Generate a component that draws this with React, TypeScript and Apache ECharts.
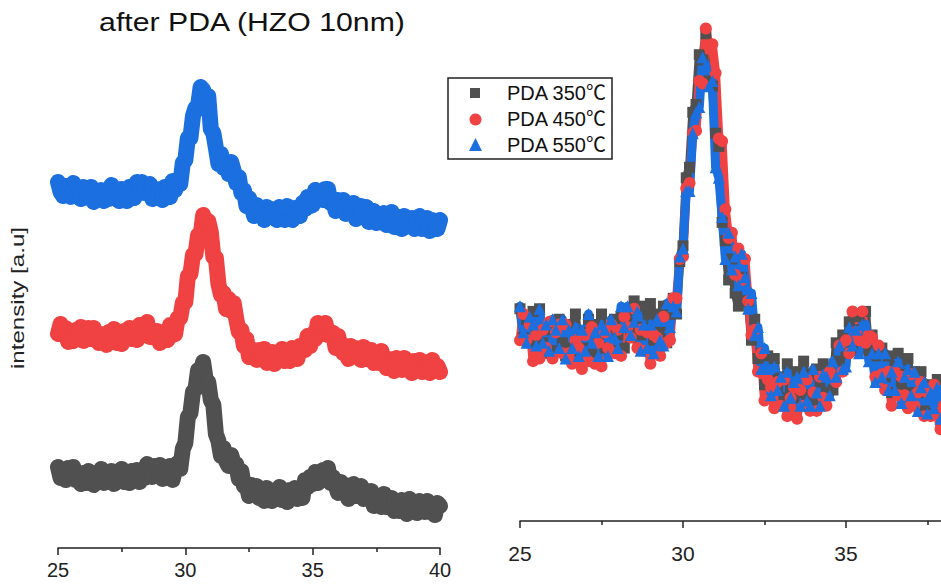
import React, { useEffect, useRef } from "react";
import * as echarts from "echarts";

// 2θ sampling of the measured patterns (degrees)
const TWO_THETA_START = 25;
const TWO_THETA_STEP = 0.1;

const SERIES_NAMES = ["PDA 350℃", "PDA 450℃", "PDA 550℃"];
const SERIES_COLORS = ["#505050", "#f04242", "#1b6fdf"];
const SERIES_SYMBOLS = ["rect", "circle", "triangle"];

// intensity (a.u.), one value per 0.1° from 25° to 40°
const PDA350 = [
  81, 70, 77, 68, 80, 71, 81, 68, 73, 64, 75, 65, 77, 68, 63, 75, 66, 79, 65, 72,
  66, 77, 64, 75, 69, 79, 66, 74, 65, 77, 71, 78, 66, 78, 70, 84, 74, 71, 82, 74,
  83, 69, 79, 72, 82, 68, 79, 85, 79, 99, 105, 131, 135, 156, 159, 178, 176, 186, 168, 166,
  148, 143, 114, 107, 92, 100, 87, 82, 93, 84, 84, 69, 77, 62, 64, 52, 63, 54, 62, 50,
  55, 47, 60, 51, 47, 57, 49, 61, 48, 56, 46, 58, 53, 60, 49, 58, 50, 68, 61, 71,
  64, 76, 65, 73, 78, 69, 80, 65, 71, 63, 55, 66, 55, 63, 49, 59, 64, 52, 56, 62,
  49, 57, 49, 57, 42, 50, 52, 41, 54, 41, 43, 50, 37, 47, 37, 48, 44, 34, 49, 39,
  45, 35, 47, 39, 36, 47, 36, 43, 33, 45, 42,
];
const PDA450 = [
  69, 79, 69, 75, 61, 71, 62, 73, 66, 76, 62, 72, 75, 64, 75, 64, 60, 69, 66, 58,
  71, 61, 74, 60, 68, 59, 72, 66, 75, 64, 73, 63, 78, 74, 70, 81, 66, 73, 65, 72,
  60, 71, 70, 63, 78, 68, 69, 85, 85, 100, 101, 127, 129, 148, 149, 168, 167, 188, 181, 182,
  171, 146, 145, 119, 108, 110, 94, 104, 92, 100, 84, 71, 73, 57, 64, 46, 54, 51, 43, 53,
  44, 54, 40, 47, 51, 39, 50, 44, 54, 42, 49, 42, 55, 47, 44, 57, 55, 53, 67, 57,
  69, 64, 80, 72, 69, 80, 68, 71, 70, 55, 67, 56, 50, 57, 44, 57, 48, 55, 48, 43,
  56, 44, 49, 53, 40, 49, 40, 52, 41, 35, 44, 42, 32, 45, 35, 33, 45, 37, 42, 30,
  42, 34, 43, 31, 39, 41, 30, 43, 32, 37, 31,
];
const PDA550 = [
  82, 72, 68, 78, 75, 67, 81, 68, 75, 65, 77, 73, 66, 77, 62, 73, 66, 74, 63, 73,
  65, 79, 68, 72, 63, 75, 73, 63, 77, 70, 66, 82, 74, 82, 71, 76, 80, 65, 75, 66,
  75, 64, 77, 69, 67, 83, 74, 82, 80, 101, 104, 126, 126, 148, 156, 158, 177, 174, 166, 168,
  135, 131, 116, 100, 110, 96, 101, 90, 102, 93, 81, 87, 71, 74, 58, 66, 58, 48, 59, 50,
  55, 44, 57, 47, 53, 55, 44, 57, 46, 44, 58, 49, 44, 56, 55, 48, 61, 55, 67, 58,
  59, 74, 67, 73, 64, 75, 75, 61, 64, 53, 64, 55, 64, 50, 57, 50, 61, 45, 55, 58,
  48, 57, 42, 51, 53, 41, 49, 43, 51, 39, 41, 52, 37, 44, 47, 35, 48, 38, 41, 46,
  35, 44, 48, 35, 38, 46, 33, 44, 41, 35, 44,
];
const ALL_DATA = [PDA350, PDA450, PDA550];

// vertical offsets used to stack the patterns in the left panel
const STACK_OFFSETS = [0, 145, 284];

const X_MIN = 25;
const X_MAX = 40;
const X_MAJOR = 5;
// the right panel runs past the page edge, its last visible label is 35
const RIGHT_LAST_LABEL = 35;

const TITLE = "after PDA (HZO 10nm)";
const Y_NAME = "intensity [a.u]";

const FONT = "'Liberation Sans', Arial, 'Noto Sans CJK SC', sans-serif";

function toPairs(arr: number[], offset: number) {
  return arr.map((v, i) => [
    Math.round((TWO_THETA_START + i * TWO_THETA_STEP) * 100) / 100,
    v + offset,
  ]);
}

function xAxisCfg(gridIndex: number, fontSize: number, margin: number, lastLabel: number) {
  return {
    type: "value",
    gridIndex,
    min: X_MIN,
    max: X_MAX,
    interval: X_MAJOR,
    axisLine: { show: true, lineStyle: { color: "#222", width: 1.5 } },
    axisTick: { show: true, length: 7, lineStyle: { color: "#222", width: 1.5 } },
    minorTick: { show: true, splitNumber: 2, length: 4, lineStyle: { color: "#222", width: 1.5 } },
    splitLine: { show: false },
    minorSplitLine: { show: false },
    axisLabel: {
      show: true,
      fontSize,
      fontFamily: FONT,
      color: "#222",
      margin,
      formatter: (v: number) => (v <= lastLabel ? String(v) : ""),
    },
  };
}

export default function App() {
  const ref = useRef<HTMLDivElement>(null);

  useEffect(() => {
    if (!ref.current) return;
    const chart = echarts.init(ref.current, undefined, { renderer: "svg" });

    const series: any[] = [];
    // left stacked panel
    ALL_DATA.forEach((arr, k) => {
      series.push({
        type: "line",
        name: SERIES_NAMES[k],
        xAxisIndex: 0,
        yAxisIndex: 0,
        data: toPairs(arr, STACK_OFFSETS[k]),
        symbol: SERIES_SYMBOLS[k],
        symbolSize: k === 0 ? 11 : 12,
        showSymbol: true,
        showAllSymbol: true,
        lineStyle: { color: SERIES_COLORS[k], width: 16, join: "round", cap: "round" },
        itemStyle: { color: SERIES_COLORS[k], borderWidth: 0 },
        silent: true,
        animation: false,
      });
    });
    // right overlay panel
    ALL_DATA.forEach((arr, k) => {
      series.push({
        type: "line",
        name: SERIES_NAMES[k],
        xAxisIndex: 1,
        yAxisIndex: 1,
        data: toPairs(arr, 0),
        symbol: SERIES_SYMBOLS[k],
        symbolSize: k === 0 ? 11 : 12,
        showSymbol: true,
        showAllSymbol: true,
        lineStyle: { color: SERIES_COLORS[k], width: 9, join: "round", cap: "round" },
        itemStyle: { color: SERIES_COLORS[k], borderWidth: 0 },
        silent: true,
        animation: false,
      });
    });

    const legendRows = [93, 119, 145];

    chart.setOption({
      animation: false,
      backgroundColor: "#ffffff",
      grid: [
        { left: 58, top: 28, width: 382, bottom: 37, outerBoundsMode: "none", containLabel: false },
        { left: 520, top: 28, width: 489, bottom: 57, outerBoundsMode: "none", containLabel: false },
      ],
      xAxis: [xAxisCfg(0, 20, 12, X_MAX), xAxisCfg(1, 21, 15, RIGHT_LAST_LABEL)],
      yAxis: [
        { type: "value", gridIndex: 0, min: 0, max: 520, show: false },
        { type: "value", gridIndex: 1, min: -2.7, max: 188.2, show: false },
      ],
      series,
      graphic: [
        {
          type: "text",
          x: 252,
          y: 22,
          scaleX: 1.21,
          style: {
            text: TITLE,
            fontSize: 25,
            fontFamily: FONT,
            fill: "#111",
            align: "center",
            verticalAlign: "middle",
          },
        },
        {
          type: "text",
          x: 17,
          y: 298,
          rotation: Math.PI / 2,
          scaleX: 1.27,
          style: {
            text: Y_NAME,
            fontSize: 19,
            fontFamily: FONT,
            fill: "#222",
            align: "center",
            verticalAlign: "middle",
          },
        },
        {
          type: "rect",
          shape: { x: 448, y: 78, width: 164, height: 81 },
          style: { fill: "#fff", stroke: "#222", lineWidth: 1.5 },
        },
        {
          type: "rect",
          shape: { x: 470, y: 88, width: 10, height: 10 },
          style: { fill: SERIES_COLORS[0] },
        },
        {
          type: "circle",
          shape: { cx: 475.5, cy: 119.5, r: 6 },
          style: { fill: SERIES_COLORS[1] },
        },
        {
          type: "polygon",
          shape: { points: [[475.5, 138], [482, 151], [469, 151]] },
          style: { fill: SERIES_COLORS[2] },
        },
        ...SERIES_NAMES.map((name, k) => ({
          type: "text",
          x: 507,
          y: legendRows[k],
          style: {
            text: name,
            fontSize: 20,
            fontFamily: FONT,
            fill: "#111",
            align: "left",
            verticalAlign: "middle",
          },
        })),
      ],
    });

    return () => chart.dispose();
  }, []);

  return (
    <div
      ref={ref}
      style={{ position: "fixed", left: 0, top: 0, width: 941, height: 585, background: "#fff" }}
    />
  );
}
